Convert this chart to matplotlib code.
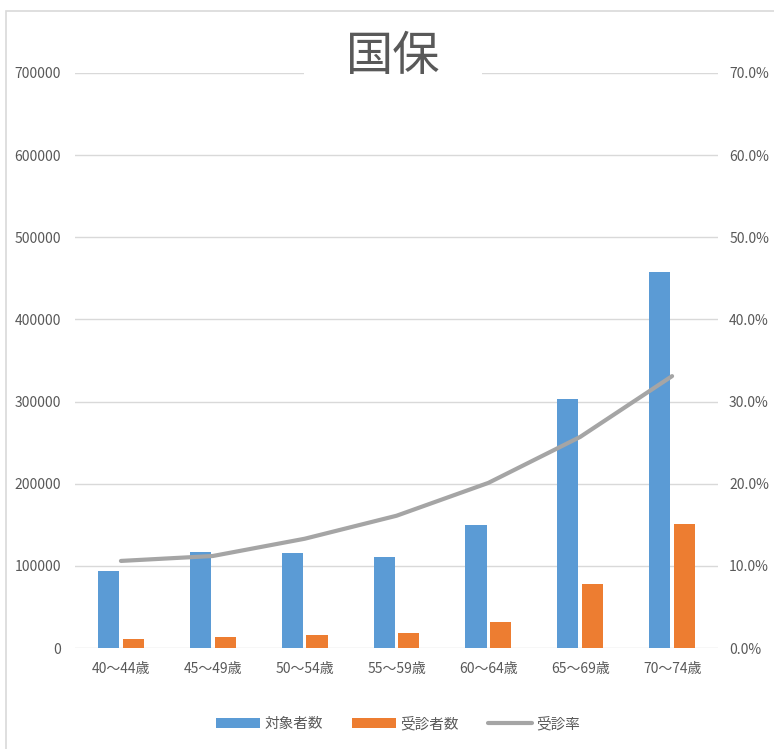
import matplotlib.pyplot as plt
import numpy as np
from matplotlib.patches import Rectangle
from matplotlib.ticker import FuncFormatter

plt.rcParams['font.family'] = ['Noto Sans CJK JP', 'DejaVu Sans']

ages = ['40～44歳', '45～49歳', '50～54歳', '55～59歳', '60～64歳', '65～69歳', '70～74歳']
taisho = [93800, 117000, 115700, 110800, 149800, 303000, 458000]
jushin = [11000, 13400, 15800, 18300, 31700, 78000, 151000]
rate = [0.106, 0.112, 0.133, 0.161, 0.201, 0.257, 0.331]

BLUE = '#5b9bd5'
ORANGE = '#ed7d31'
GRAY_LINE = '#a5a5a5'
TXT = '#595959'
GRID = '#d9d9d9'

fig = plt.figure(figsize=(7.74, 7.49), dpi=100)
ax = fig.add_axes([75 / 774, 1 - 648 / 749, 643 / 774, 575 / 749])

x = np.arange(len(ages))
w = 0.23
ax.bar(x - w / 2 - 0.02, taisho, w, color=BLUE, label='対象者数', zorder=2)
ax.bar(x + w / 2 + 0.02, jushin, w, color=ORANGE, label='受診者数', zorder=2)
ax.set_xlim(-0.5, len(ages) - 0.5)
ax.set_ylim(0, 700000)
ax.set_yticks(np.arange(0, 700001, 100000))
ax.yaxis.grid(True, color=GRID, linewidth=1)
ax.set_axisbelow(True)
ax.set_xticks(x)
ax.set_xticklabels(ages)
ax.tick_params(axis='both', length=0, colors=TXT, labelsize=10)
ax.tick_params(axis='x', pad=10)
ax.tick_params(axis='y', pad=10)
for s in ax.spines.values():
    s.set_visible(False)

ax2 = ax.twinx()
ax2.plot(x, rate, color=GRAY_LINE, linewidth=3, label='受診率', solid_capstyle='round', zorder=3)
ax2.set_ylim(0, 0.7)
ax2.set_yticks(np.arange(0, 0.71, 0.1))
ax2.yaxis.set_major_formatter(FuncFormatter(lambda v, p: f'{v * 100:.1f}%'))
ax2.tick_params(axis='y', length=0, colors=TXT, labelsize=10, pad=8)
for s in ax2.spines.values():
    s.set_visible(False)

fig.text(393 / 774, 1 - 57 / 749, '国保', ha='center', va='center',
         fontsize=34, color=TXT, zorder=3,
         bbox=dict(facecolor='white', edgecolor='none', pad=30))

# chart frame, drawn over the title box
frame = Rectangle((6 / 774, -0.1), 1.2, 1 - 11 / 749 + 0.1,
                  transform=fig.transFigure, fill=False,
                  edgecolor=GRID, linewidth=1.2, zorder=10)
fig.add_artist(frame)

h1, l1 = ax.get_legend_handles_labels()
h2, l2 = ax2.get_legend_handles_labels()
fig.legend(h1 + h2, l1 + l2, loc='center', bbox_to_anchor=(398 / 774, 1 - 724 / 749),
           ncol=3, frameon=False, fontsize=10.5, labelcolor=TXT,
           handlelength=3.0, handletextpad=0.3, columnspacing=2.0)

fig.savefig('out.png', dpi=100)
